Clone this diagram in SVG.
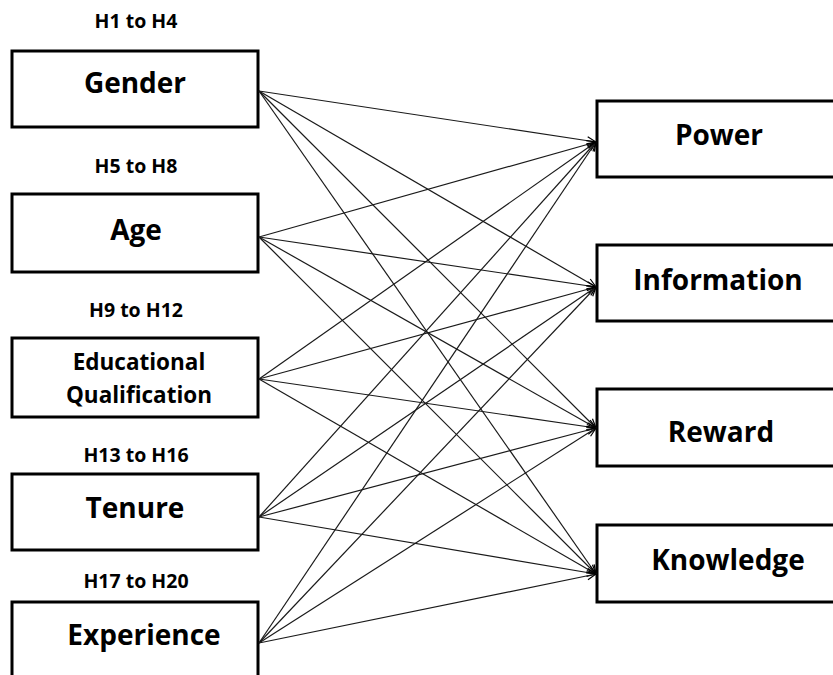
<svg xmlns="http://www.w3.org/2000/svg" width="833" height="675" viewBox="0 0 833 675">
  <style>
    .box { fill: #ffffff; stroke: #000000; stroke-width: 3; }
    .lbl { font-family: "Open Sans", "Liberation Sans", sans-serif; font-weight: bold; font-size: 28px; fill: #000000; text-anchor: middle; }
    .lbl-sm { font-family: "Open Sans", "Liberation Sans", sans-serif; font-weight: bold; font-size: 22.5px; fill: #000000; text-anchor: middle; }
    .hyp { font-family: "Open Sans", "Liberation Sans", sans-serif; font-weight: bold; font-size: 19.5px; fill: #000000; text-anchor: middle; }
    .link { stroke: #1a1a1a; stroke-width: 1.2; fill: none; marker-end: url(#arrow); }
  </style>
  <defs>
    <marker id="arrow" viewBox="0 0 10 10" refX="10" refY="5" markerWidth="10" markerHeight="10" markerUnits="userSpaceOnUse" orient="auto">
      <path d="M1,1 L10,5 L1,9" fill="none" stroke="#000000" stroke-width="1.2"/>
    </marker>
  </defs>

  <rect width="833" height="675" fill="#ffffff"/>

  <!-- hypothesis labels -->
  <g id="hypotheses">
    <text class="hyp" x="136" y="28">H1 to H4</text>
    <text class="hyp" x="136" y="173">H5 to H8</text>
    <text class="hyp" x="136" y="317">H9 to H12</text>
    <text class="hyp" x="136" y="462">H13 to H16</text>
    <text class="hyp" x="136" y="588">H17 to H20</text>
  </g>

  <!-- predictor nodes -->
  <g id="gender">
    <rect class="box" x="12" y="51" width="246" height="76"/>
    <text class="lbl" x="135" y="93">Gender</text>
  </g>
  <g id="age">
    <rect class="box" x="12" y="194" width="246" height="78"/>
    <text class="lbl" x="136" y="240">Age</text>
  </g>
  <g id="education">
    <rect class="box" x="12" y="338" width="246" height="79"/>
    <text class="lbl-sm" x="139" y="370">Educational</text>
    <text class="lbl-sm" x="139" y="403">Qualification</text>
  </g>
  <g id="tenure">
    <rect class="box" x="12" y="474" width="246" height="76"/>
    <text class="lbl" x="135" y="518">Tenure</text>
  </g>
  <g id="experience">
    <rect class="box" x="12" y="602" width="246" height="82"/>
    <text class="lbl" x="144" y="645">Experience</text>
  </g>

  <!-- outcome nodes -->
  <g id="power">
    <rect class="box" x="597" y="101" width="248" height="76"/>
    <text class="lbl" x="719" y="145">Power</text>
  </g>
  <g id="information">
    <rect class="box" x="597" y="245" width="248" height="76"/>
    <text class="lbl" x="718" y="290">Information</text>
  </g>
  <g id="reward">
    <rect class="box" x="597" y="389" width="248" height="77"/>
    <text class="lbl" x="721" y="442">Reward</text>
  </g>
  <g id="knowledge">
    <rect class="box" x="597" y="525" width="248" height="77"/>
    <text class="lbl" x="728" y="570">Knowledge</text>
  </g>

  <!-- every predictor links to every outcome -->
  <g id="connectors">
    <line class="link" x1="259" y1="91" x2="596" y2="142"/>
    <line class="link" x1="259" y1="91" x2="596" y2="287"/>
    <line class="link" x1="259" y1="91" x2="596" y2="428"/>
    <line class="link" x1="259" y1="91" x2="596" y2="574"/>

    <line class="link" x1="259" y1="237" x2="596" y2="142"/>
    <line class="link" x1="259" y1="237" x2="596" y2="287"/>
    <line class="link" x1="259" y1="237" x2="596" y2="428"/>
    <line class="link" x1="259" y1="237" x2="596" y2="574"/>

    <line class="link" x1="259" y1="379" x2="596" y2="142"/>
    <line class="link" x1="259" y1="379" x2="596" y2="287"/>
    <line class="link" x1="259" y1="379" x2="596" y2="428"/>
    <line class="link" x1="259" y1="379" x2="596" y2="574"/>

    <line class="link" x1="259" y1="517" x2="596" y2="142"/>
    <line class="link" x1="259" y1="517" x2="596" y2="287"/>
    <line class="link" x1="259" y1="517" x2="596" y2="428"/>
    <line class="link" x1="259" y1="517" x2="596" y2="574"/>

    <line class="link" x1="259" y1="643" x2="596" y2="142"/>
    <line class="link" x1="259" y1="643" x2="596" y2="287"/>
    <line class="link" x1="259" y1="643" x2="596" y2="428"/>
    <line class="link" x1="259" y1="643" x2="596" y2="574"/>
  </g>
</svg>
